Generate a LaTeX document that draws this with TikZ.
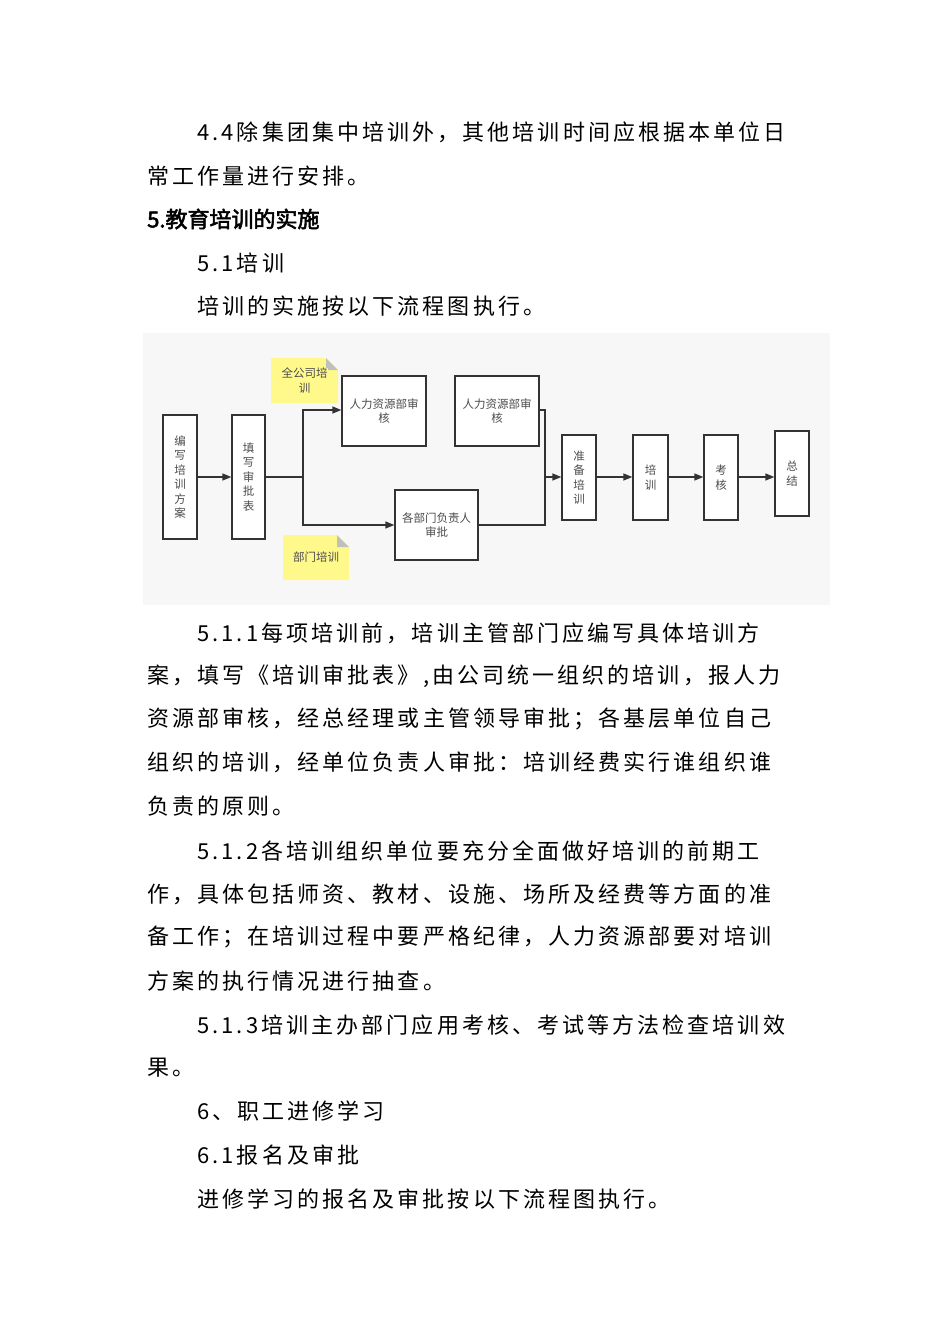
\documentclass[tikz,border=0pt]{standalone}
\usepackage{fontspec}
\setmainfont{Noto Sans CJK SC}[AutoFakeBold=2.5]
\usetikzlibrary{arrows.meta}
\tikzset{
 x=1pt,y=-1pt,
 body/.style={anchor=west,inner sep=0pt,font=\fontsize{22}{22}\selectfont\addfontfeature{LetterSpace=14}},
 box/.style={draw=black!80,line width=1.3pt,fill=white,inner sep=0pt,align=center,text=black!70,font=\fontsize{11.5}{14.5}\selectfont},
 arr/.style={-{Triangle[length=9pt,width=7pt]},line width=1.3pt,draw=black!80},
 ln/.style={line width=1.3pt,draw=black!80},
 note/.style={fill=yellow!45,inner sep=0pt,align=center,text=black!70,font=\fontsize{11.5}{14.5}\selectfont},
}
\newcommand{\mybox}[6]{\node[box,minimum width=#4-#2,minimum height=#5-#3] (#1) at ({(#2+#4)/2},{(#3+#5)/2}) {#6};}
\newcommand{\mynote}[6]{\fill[yellow!45] (#2,#3) -- (#4-12,#3) -- (#4,#3+12) -- (#4,#5) -- (#2,#5) -- cycle;
 \fill[black!25] (#4-12,#3) -- (#4,#3+12) -- (#4-12,#3+12) -- cycle;
 \node[note] (#1) at ({(#2+#4)/2},{(#3+#5)/2}) {#6};}
\begin{document}
\begin{tikzpicture}
\useasboundingbox[fill=white] (0,0) rectangle (950,1344);
\node[body] (l1) at (197,132) {4.4除集团集中培训外，其他培训时间应根据本单位日};
\node[body] (l2) at (147,176) {常工作量进行安排。};
\node[body,font=\fontsize{22}{22}\selectfont\bfseries] (l3) at (147,219) {5.教育培训的实施};
\node[body] (l4) at (197,263) {5.1培训};
\node[body] (l5) at (197,306) {培训的实施按以下流程图执行。};
\fill[black!3] (143,333) rectangle (830,605);
\mynote{n1}{271}{358}{338}{403}{全公司培\\训}
\mynote{n2}{283}{535}{349}{580}{部门培训}
\mybox{a}{163}{415}{197}{539}{编\\写\\培\\训\\方\\案}
\mybox{b}{232}{415}{265}{539}{填\\写\\审\\批\\表}
\mybox{c}{342}{376}{426}{446}{人力资源部审\\核}
\mybox{d}{455}{376}{539}{446}{人力资源部审\\核}
\mybox{e}{395}{490}{478}{560}{各部门负责人\\审批}
\mybox{f}{562}{435}{596}{520}{准\\备\\培\\训}
\mybox{g}{633}{435}{668}{520}{培\\训}
\mybox{h}{704}{435}{738}{520}{考\\核}
\mybox{k}{775}{431}{809}{516}{总\\结}
\coordinate (br) at (303,477);
\coordinate (jn) at (545,477);
\draw[arr] (a.east |- 0,477) -- (b.west |- 0,477);
\draw[ln] (b.east |- br) -- (br);
\draw[arr] (br) |- (c.west |- 0,410);
\draw[arr] (br) |- (e.west |- 0,525);
\draw[ln] (d.east |- 0,410) -| (jn);
\draw[ln] (e.east |- 0,525) -| (jn);
\draw[arr] (jn) -- (f.west |- jn);
\draw[arr] (f.east |- 0,477) -- (g.west |- 0,477);
\draw[arr] (g.east |- 0,477) -- (h.west |- 0,477);
\draw[arr] (h.east |- 0,477) -- (k.west |- 0,477);
\node[body] (m1) at (197,633) {5.1.1每项培训前，培训主管部门应编写具体培训方};
\node[body] (m2) at (147,676) {案，填写《培训审批表》,由公司统一组织的培训，报人力};
\node[body] (m3) at (147,719) {资源部审核，经总经理或主管领导审批；各基层单位自己};
\node[body] (m4) at (147,762) {组织的培训，经单位负责人审批：培训经费实行谁组织谁};
\node[body] (m5) at (147,806) {负责的原则。};
\node[body] (m6) at (197,851) {5.1.2各培训组织单位要充分全面做好培训的前期工};
\node[body] (m7) at (147,894) {作，具体包括师资、教材、设施、场所及经费等方面的准};
\node[body] (m8) at (147,937) {备工作；在培训过程中要严格纪律，人力资源部要对培训};
\node[body] (m9) at (147,981) {方案的执行情况进行抽查。};
\node[body] (m10) at (197,1025) {5.1.3培训主办部门应用考核、考试等方法检查培训效};
\node[body] (m11) at (147,1068) {果。};
\node[body] (m12) at (197,1111) {6、职工进修学习};
\node[body] (m13) at (197,1155) {6.1报名及审批};
\node[body] (m14) at (197,1199) {进修学习的报名及审批按以下流程图执行。};
\end{tikzpicture}
\end{document}
